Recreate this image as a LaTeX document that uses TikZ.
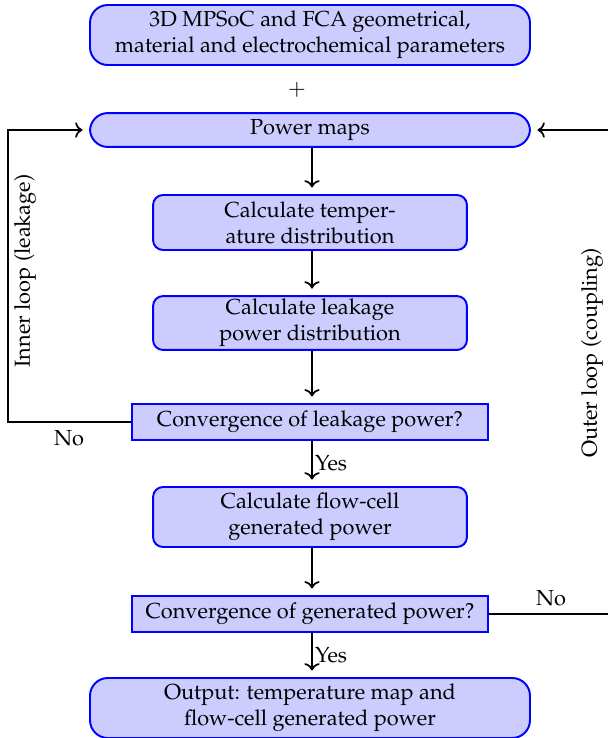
\documentclass[tikz,border=0pt]{standalone}
\usepackage[T1]{fontenc}
\usepackage{mathpazo}
\usetikzlibrary{arrows.meta}
\definecolor{boxfill}{RGB}{204,204,255}
\begin{document}
\begin{tikzpicture}[x=0.46pt,y=-0.46pt,
  bigbox/.style={draw=blue,fill=boxfill,line width=0.9pt,rounded corners=8.2pt,
    minimum width=202.4pt,align=center,inner sep=1pt},
  midbox/.style={draw=blue,fill=boxfill,line width=0.9pt,rounded corners=4.6pt,
    minimum width=144.4pt,align=center,inner sep=1pt},
  decbox/.style={draw=blue,fill=boxfill,line width=0.9pt,
    minimum width=163.8pt,minimum height=16.6pt,align=center,inner sep=1pt},
  conn/.style={thick,->,shorten >=3pt},
  lbl/.style={inner sep=1pt}]
\useasboundingbox (0,0) rectangle (608,738);
\begin{scope}
\clip (0,0) rectangle (608,738);
\node[bigbox,minimum height=27.6pt] (top) at (310,35) {3D MPSoC and FCA geometrical,\\material and electrochemical parameters};
\node[lbl] (plus) at (297,90) {$+$};
\node[bigbox,minimum height=15.6pt] (pm) at (310,130) {Power maps};
\node[midbox,minimum height=25.3pt] (temp) at (310,222.5) {Calculate temper-\\ature distribution};
\node[midbox,minimum height=24.8pt] (leak) at (310,323) {Calculate leakage\\power distribution};
\node[decbox] (conv1) at (310,422) {Convergence of leakage power?};
\node[midbox,minimum height=27.6pt] (gen) at (310,517) {Calculate flow-cell\\generated power};
\node[decbox] (conv2) at (310,614) {Convergence of generated power?};
\node[bigbox,minimum height=27.6pt] (out) at (310,708) {Output: temperature map and\\flow-cell generated power};

\coordinate (lc) at (8,422);
\coordinate (rc) at (640,614);

\draw[conn] (pm.south -| 312,0) -- (temp.north -| 312,0);
\draw[conn] (temp.south -| 312,0) -- (leak.north -| 312,0);
\draw[conn] (leak.south -| 312,0) -- (conv1.north -| 312,0);
\draw[conn] (conv1.south -| 312,0) -- node[right,lbl] (yes1) {Yes} (gen.north -| 312,0);
\draw[conn] (gen.south -| 312,0) -- (conv2.north -| 312,0);
\draw[conn] (conv2.south -| 312,0) -- node[right,lbl] (yes2) {Yes} (out.north -| 312,0);

\draw[conn] (conv1.west) -- (lc) |- (pm.west);
\draw[conn] (conv2.east) -- (rc) |- (pm.east);

\node[lbl] (no1) at (69,438) {No};
\node[lbl] (no2) at (551,598) {No};
\node[lbl,rotate=90] (inner) at (25,271) {Inner loop (leakage)};
\node[lbl,rotate=90] (outer) at (592,353) {Outer loop (coupling)};
\end{scope}
\end{tikzpicture}
\end{document}
